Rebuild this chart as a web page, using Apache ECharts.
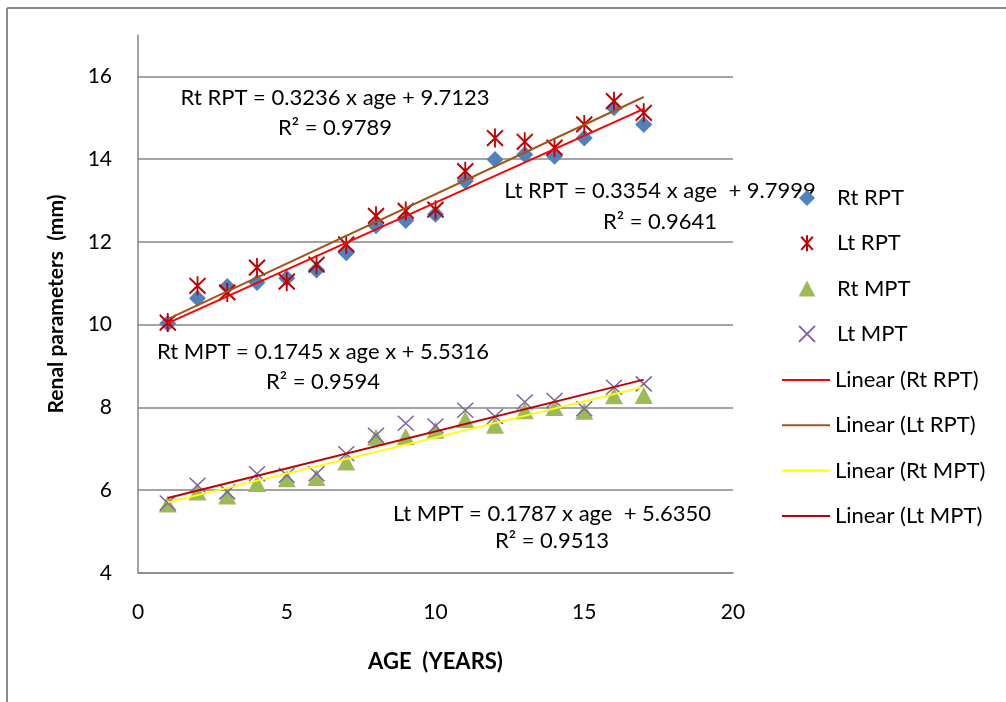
<!DOCTYPE html>
<html>
<head>
<meta charset="utf-8">
<script src="https://cdn.jsdelivr.net/npm/echarts@6/dist/echarts.min.js"></script>
<style>
  html, body { margin: 0; padding: 0; background: #fff; }
</style>
</head>
<body>
<div id="main" style="width: 1006px; height: 702px;"></div>
<script>
// ages (years)
var ages = [1, 2, 3, 4, 5, 6, 7, 8, 9, 10, 11, 12, 13, 14, 15, 16, 17];
// renal parenchymal thickness (mm)
var rtRPT = [10.03, 10.64, 10.92, 11.02, 11.12, 11.32, 11.74, 12.39, 12.52, 12.67, 13.47, 13.99, 14.11, 14.07, 14.51, 15.24, 14.84];
var ltRPT = [10.05, 10.94, 10.78, 11.38, 11.04, 11.45, 11.94, 12.63, 12.75, 12.78, 13.71, 14.51, 14.42, 14.28, 14.84, 15.40, 15.12];
// medullary pyramid thickness (mm)
var rtMPT = [5.67, 5.96, 5.86, 6.16, 6.28, 6.31, 6.68, 7.28, 7.30, 7.45, 7.71, 7.57, 7.92, 8.00, 7.91, 8.28, 8.29];
var ltMPT = [5.69, 6.12, 5.96, 6.40, 6.36, 6.40, 6.88, 7.33, 7.62, 7.55, 7.93, 7.78, 8.13, 8.17, 7.97, 8.49, 8.57];
// trendline equations as printed on the chart: [slope, intercept]
var trendRtRPT = [0.3236, 9.7123];
var trendLtRPT = [0.3354, 9.7999];
var trendRtMPT = [0.1745, 5.5316];
var trendLtMPT = [0.1787, 5.6350];

var FONT = 'Lato';
var FS = 22;

function pairs(vals) {
  return ages.map(function (a, i) { return [a, vals[i]]; });
}
function trend(coef) {
  var a0 = ages[0], a1 = ages[ages.length - 1];
  return [[a0, coef[0] * a0 + coef[1]], [a1, coef[0] * a1 + coef[1]]];
}

var DIAMOND = 'path://M0,-1L1,0L0,1L-1,0Z';
var STAR = 'path://M-0.8,-0.9L0.8,0.9M0.8,-0.9L-0.8,0.9M0,-1.1L0,1.1';
var TRI = 'path://M0,-1L1.05,1L-1.05,1Z';
var CROSS = 'path://M-1,-1L1,1M1,-1L-1,1';

function eqText(x, y, txt, lh) {
  return {
    type: 'text', x: x, y: y, silent: true,
    style: { text: txt, font: FS + 'px ' + FONT, fill: '#000', align: 'center', verticalAlign: 'middle', lineHeight: lh }
  };
}

var chart = echarts.init(document.getElementById('main'));
chart.setOption({
  animation: false,
  textStyle: { fontFamily: FONT },
  grid: { left: 138, right: 273, top: 35, bottom: 129 },
  xAxis: {
    type: 'value',
    min: 0, max: 20, interval: 5,
    name: 'AGE  (YEARS)',
    nameLocation: 'middle',
    nameGap: 78,
    nameTextStyle: { fontFamily: FONT, fontSize: 22, fontWeight: 'bold', color: '#000' },
    axisLine: { show: true, lineStyle: { color: '#868686', width: 1.5 } },
    axisTick: { show: false },
    axisLabel: { margin: 29, fontSize: 21, color: '#000', fontFamily: FONT },
    splitLine: { show: false }
  },
  yAxis: {
    type: 'value',
    min: 4, max: 17, interval: 2,
    name: 'Renal parameters  (mm)',
    nameLocation: 'middle',
    nameGap: 71,
    nameTextStyle: { fontFamily: FONT, fontSize: 21, fontWeight: 'bold', color: '#000' },
    axisLine: { show: true, lineStyle: { color: '#868686', width: 1.5 } },
    axisTick: { show: false },
    axisLabel: { margin: 26, fontSize: 21, color: '#000', fontFamily: FONT, showMaxLabel: false },
    splitLine: { show: true, showMaxLine: false, lineStyle: { color: '#868686', width: 1.5 } }
  },
  legend: [
    {
      orient: 'vertical',
      left: 798, top: 187,
      padding: 0,
      itemWidth: 50, itemHeight: 16, itemGap: 23.3,
      symbolKeepAspect: true,
      textStyle: { fontFamily: FONT, fontSize: FS, color: '#000', lineHeight: 22 },
      data: ['Rt RPT', 'Lt RPT', 'Rt MPT', 'Lt MPT']
    },
    {
      orient: 'vertical',
      left: 782, top: 369,
      padding: 0,
      icon: 'rect',
      itemWidth: 48, itemHeight: 2, itemGap: 23.3,
      textStyle: { fontFamily: FONT, fontSize: FS, color: '#000', lineHeight: 22 },
      data: ['Linear (Rt RPT)', 'Linear (Lt RPT)', 'Linear (Rt MPT)', 'Linear (Lt MPT)']
    }
  ],
  series: [
    {
      name: 'Rt RPT', type: 'scatter',
      symbol: DIAMOND, symbolSize: [17, 17],
      itemStyle: { color: '#4F81BD', opacity: 1 },
      data: pairs(rtRPT)
    },
    {
      name: 'Lt RPT', type: 'scatter',
      symbol: STAR, symbolSize: [16, 19],
      itemStyle: { color: 'rgba(0,0,0,0)', borderColor: '#C00000', borderWidth: 2, opacity: 1 },
      data: pairs(ltRPT)
    },
    {
      name: 'Rt MPT', type: 'scatter',
      symbol: TRI, symbolSize: [18, 17],
      itemStyle: { color: '#9BBB59', opacity: 1 },
      data: pairs(rtMPT)
    },
    {
      name: 'Lt MPT', type: 'scatter',
      symbol: CROSS, symbolSize: [16, 15],
      itemStyle: { color: 'rgba(0,0,0,0)', borderColor: '#8064A2', borderWidth: 1.5, opacity: 1 },
      data: pairs(ltMPT)
    },
    {
      name: 'Linear (Rt RPT)', type: 'line', symbol: 'none',
      lineStyle: { color: '#FF0000', width: 2 }, itemStyle: { color: '#FF0000' },
      data: trend(trendRtRPT)
    },
    {
      name: 'Linear (Lt RPT)', type: 'line', symbol: 'none',
      lineStyle: { color: '#A0561B', width: 2 }, itemStyle: { color: '#A0561B' },
      data: trend(trendLtRPT)
    },
    {
      name: 'Linear (Rt MPT)', type: 'line', symbol: 'none',
      lineStyle: { color: '#FFFF00', width: 2 }, itemStyle: { color: '#FFFF00' },
      data: trend(trendRtMPT)
    },
    {
      name: 'Linear (Lt MPT)', type: 'line', symbol: 'none',
      lineStyle: { color: '#C00000', width: 2 }, itemStyle: { color: '#C00000' },
      data: trend(trendLtMPT)
    }
  ],
  graphic: [
    // chart frame
    { type: 'line', shape: { x1: 7, y1: 8, x2: 1006, y2: 8 }, style: { stroke: '#8c8c8c', lineWidth: 2 }, silent: true },
    { type: 'line', shape: { x1: 7, y1: 8, x2: 7, y2: 702 }, style: { stroke: '#8c8c8c', lineWidth: 2 }, silent: true },
    // trendline equation labels
    eqText(335, 113, 'Rt RPT = 0.3236 x age + 9.7123\nR² = 0.9789', 30),
    eqText(660, 206, 'Lt RPT = 0.3354 x age  + 9.7999\nR² = 0.9641', 31),
    eqText(323, 367, 'Rt MPT = 0.1745 x age x + 5.5316\nR² = 0.9594', 30),
    eqText(552, 527, 'Lt MPT = 0.1787 x age  + 5.6350\nR² = 0.9513', 27)
  ]
});
</script>
</body>
</html>
